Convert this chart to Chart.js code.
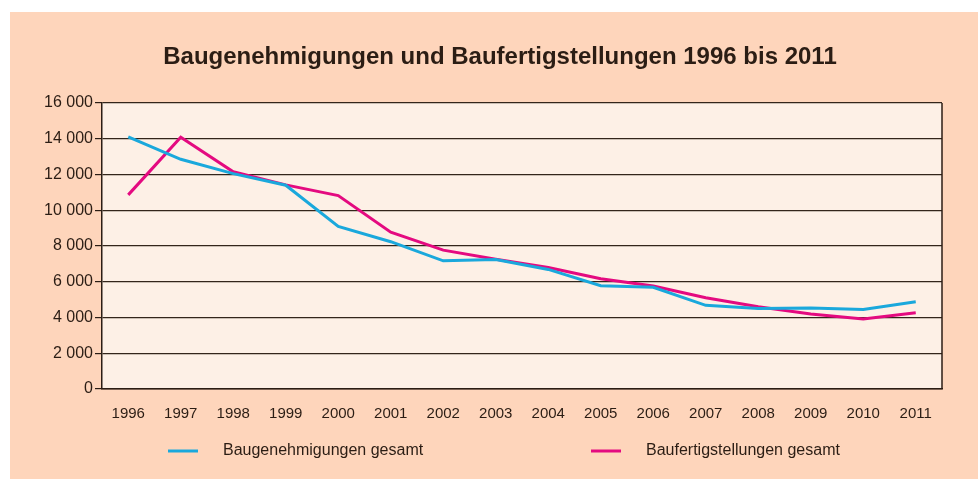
<!DOCTYPE html>
<html>
<head>
<meta charset="utf-8">
<script src="https://cdn.jsdelivr.net/npm/chart.js@4/dist/chart.umd.min.js"></script>
<style>
    html, body { margin: 0; padding: 0; background: #ffffff; }
    #box { position: absolute; left: 10px; top: 12px; width: 968px; height: 467px; background: #fed5bb; }
</style>
</head>
<body>
<div id="box"><canvas id="line"></canvas></div>
<script>
var years = ["1996", "1997", "1998", "1999", "2000", "2001", "2002", "2003",
             "2004", "2005", "2006", "2007", "2008", "2009", "2010", "2011"];
var genehmigungen = [14100, 12850, 12050, 11400, 9100, 8240, 7170, 7240,
                     6690, 5780, 5690, 4680, 4510, 4530, 4450, 4880];
var fertigstellungen = [10860, 14080, 12150, 11420, 10820, 8770, 7770, 7260,
                        6800, 6170, 5760, 5100, 4600, 4190, 3910, 4270];
var yTicks = [0, 2000, 4000, 6000, 8000, 10000, 12000, 14000, 16000];
var titleText = "Baugenehmigungen und Baufertigstellungen 1996 bis 2011";

var textColor = "#2b1d14";
var fontFam = "'Liberation Sans', Arial, sans-serif";

// light plot background + right frame line
var plotBg = {
    id: "plotBg",
    beforeDraw: function (chart) {
        var a = chart.chartArea;
        var ctx = chart.ctx;
        ctx.save();
        ctx.fillStyle = "#fdf0e6";
        ctx.fillRect(a.left, a.top, a.right - a.left, a.bottom - a.top);
        ctx.restore();
    },
    afterDraw: function (chart) {
        var a = chart.chartArea;
        var ctx = chart.ctx;
        ctx.save();
        ctx.strokeStyle = textColor;
        ctx.lineWidth = 1.5;
        ctx.beginPath();
        ctx.moveTo(a.right, a.top);
        ctx.lineTo(a.right, a.bottom);
        ctx.stroke();
        ctx.restore();
    }
};

// title a bit right of the canvas centre, like the original
var titlePlugin = {
    id: "titlePlugin",
    afterDraw: function (chart) {
        var ctx = chart.ctx;
        ctx.save();
        ctx.font = "bold 24px " + fontFam;
        ctx.fillStyle = textColor;
        ctx.textAlign = "center";
        ctx.textBaseline = "middle";
        ctx.fillText(titleText, 490, 45);
        ctx.restore();
    }
};

// legend spread wide under the chart
var wideLegend = {
    id: "wideLegend",
    afterDraw: function (chart) {
        var ctx = chart.ctx;
        var a = chart.chartArea;
        var offs = [66, 489];
        var y = 439;
        ctx.save();
        ctx.font = "16px " + fontFam;
        ctx.textBaseline = "middle";
        chart.data.datasets.forEach(function (ds, i) {
            var x = a.left + offs[i];
            ctx.strokeStyle = ds.borderColor;
            ctx.lineWidth = 3;
            ctx.beginPath();
            ctx.moveTo(x, y);
            ctx.lineTo(x + 30, y);
            ctx.stroke();
            ctx.fillStyle = textColor;
            ctx.fillText(ds.label, x + 55, y);
        });
        ctx.restore();
    }
};

var ctx = document.getElementById("line").getContext("2d");
new Chart(ctx, {
    type: "line",
    data: {
        labels: years,
        datasets: [{
            label: "Baugenehmigungen gesamt",
            data: genehmigungen,
            borderColor: "#1aa8dc",
            borderWidth: 3,
            pointRadius: 0,
            tension: 0
        }, {
            label: "Baufertigstellungen gesamt",
            data: fertigstellungen,
            borderColor: "#e40a80",
            borderWidth: 3,
            pointRadius: 0,
            tension: 0
        }]
    },
    options: {
        responsive: true,
        maintainAspectRatio: false,
        animation: false,
        layout: { padding: { left: 0, right: 36, top: 91, bottom: 0 } },
        plugins: {
            legend: { display: false },
            tooltip: { enabled: false },
            title: { display: false }
        },
        scales: {
            x: {
                offset: true,
                grid: { display: false },
                border: { display: true, color: textColor, width: 1.5 },
                ticks: {
                    color: textColor,
                    padding: 8,
                    maxRotation: 0,
                    font: { family: fontFam, size: 15 }
                },
                afterFit: function (scale) { scale.height = 90; }
            },
            y: {
                min: 0,
                max: 16000,
                afterBuildTicks: function (scale) {
                    scale.ticks = yTicks.map(function (v) { return { value: v }; });
                },
                grid: {
                    color: "#33251b",
                    lineWidth: 1.2,
                    drawTicks: true,
                    tickLength: 7,
                    tickColor: textColor
                },
                border: { display: true, color: textColor, width: 1.5 },
                ticks: {
                    color: textColor,
                    padding: 2,
                    font: { family: fontFam, size: 16 },
                    callback: function (v) {
                        return String(v).replace(/\B(?=(\d{3})+(?!\d))/g, " ");
                    }
                },
                afterFit: function (scale) { scale.width = 92; }
            }
        }
    },
    plugins: [plotBg, titlePlugin, wideLegend]
});
</script>
</body>
</html>
